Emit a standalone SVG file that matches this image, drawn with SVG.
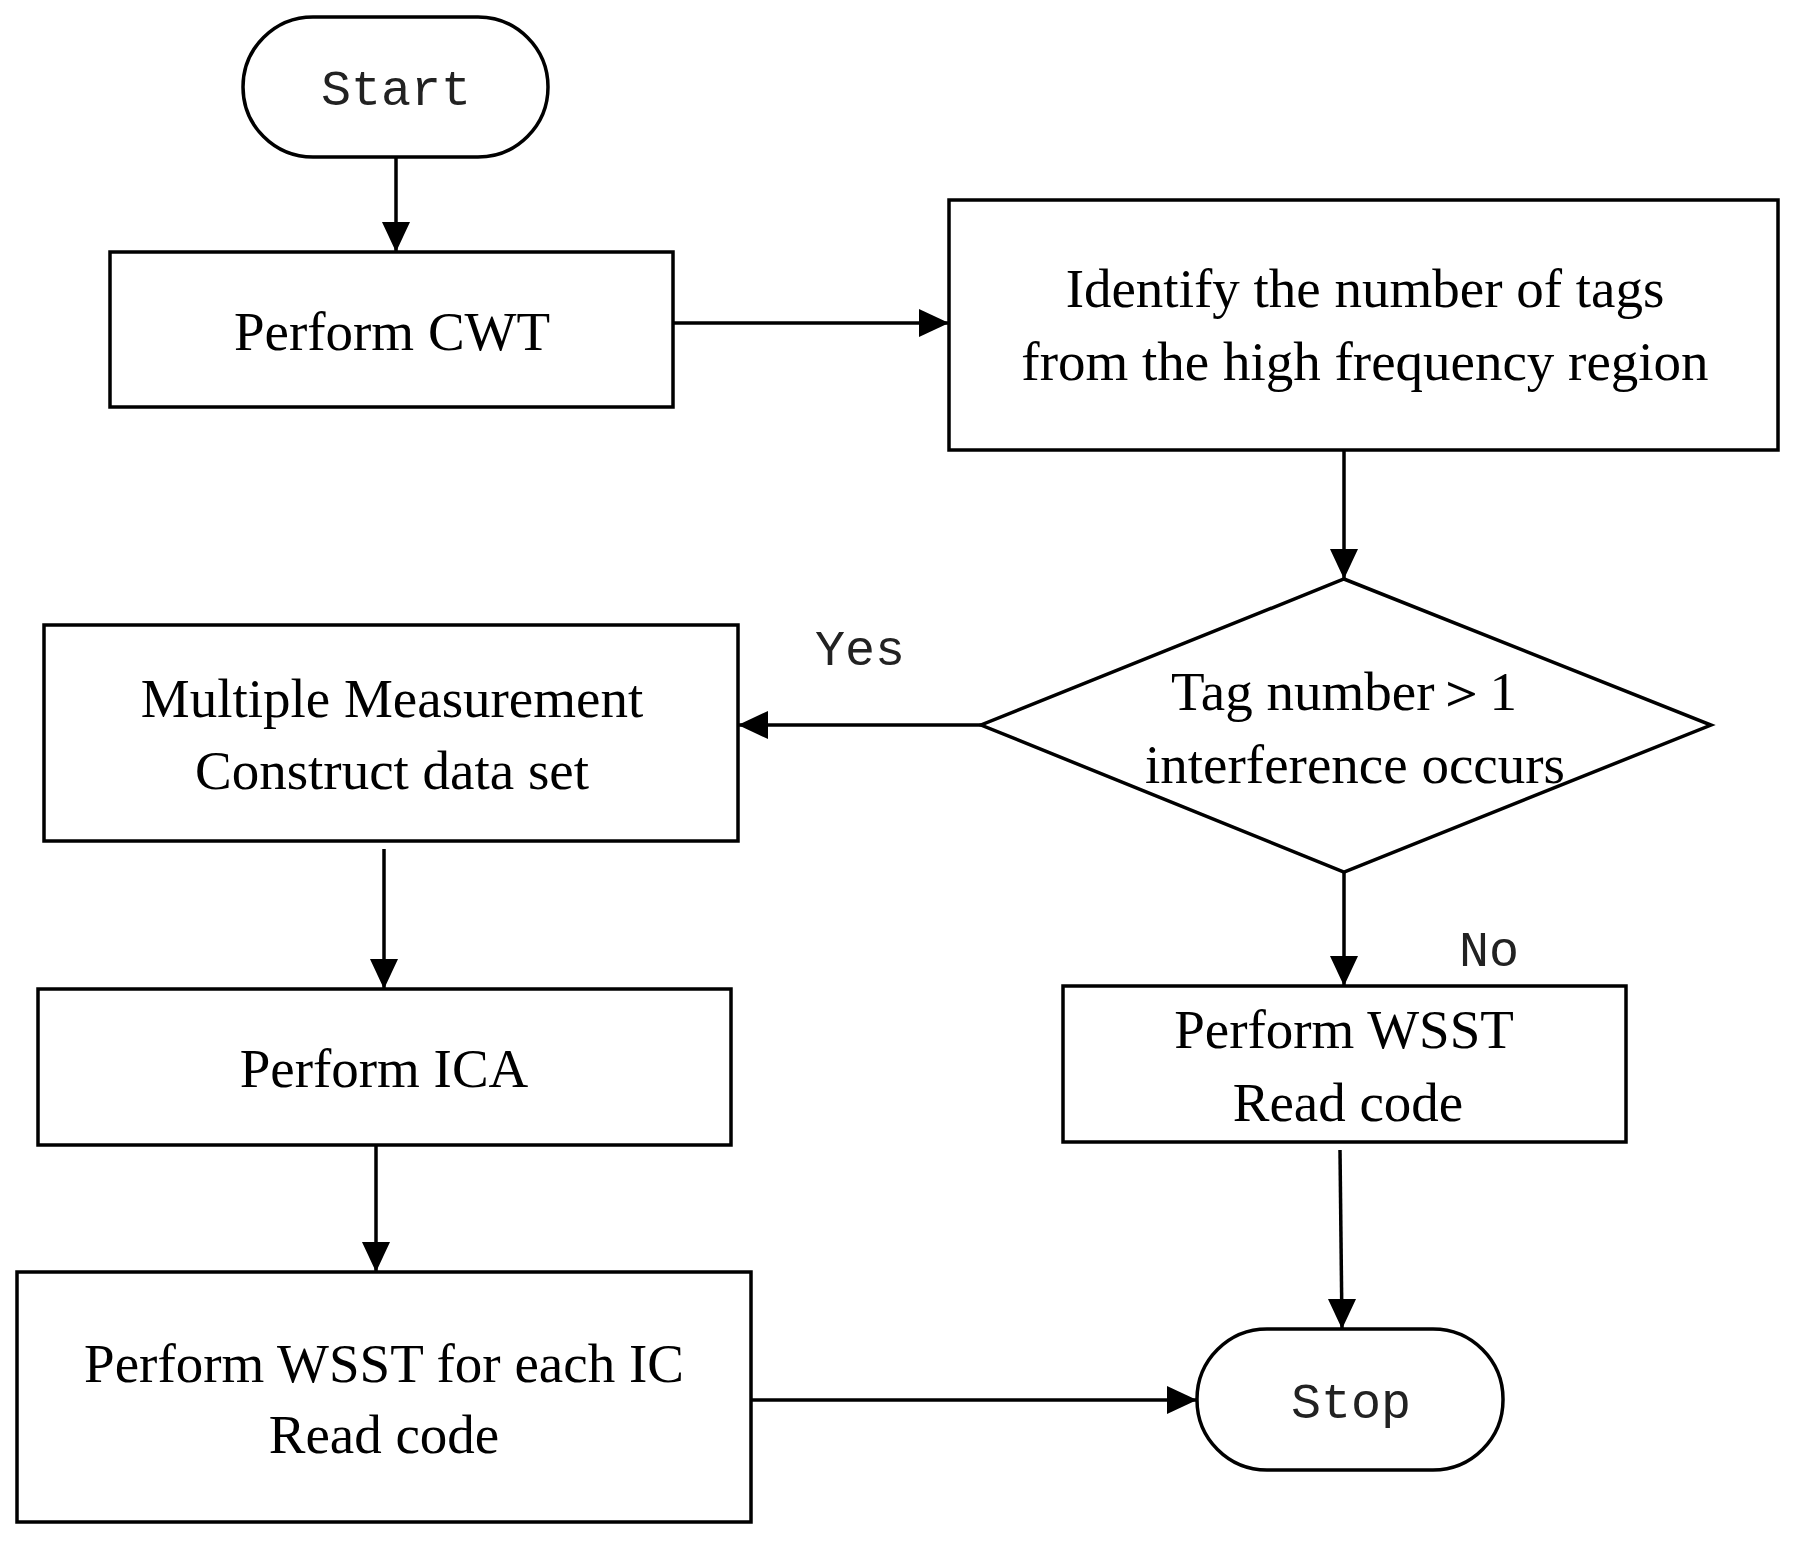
<svg xmlns="http://www.w3.org/2000/svg" width="1798" height="1545" viewBox="0 0 1798 1545">
<style>
.s{fill:#fff;stroke:#000;stroke-width:3.5}
.t{font-family:"Liberation Serif",serif;font-size:55px;text-anchor:middle;fill:#000}
.m{font-family:"Liberation Mono",monospace;font-size:50px;text-anchor:middle;fill:#222}
.l{stroke:#000;stroke-width:3.5;fill:none}
</style>
<rect width="1798" height="1545" fill="#fff"/>
<g id="connectors">
<path class="l" d="M396,157 V252"/><path d="M382,222 L396,252 L410,222 z"/>
<path class="l" d="M673,323 H949"/><path d="M919,309 L949,323 L919,337 z"/>
<path class="l" d="M1344,450 V579"/><path d="M1330,549 L1344,579 L1358,549 z"/>
<path class="l" d="M981,725 H738"/><path d="M768,711 L738,725 L768,739 z"/>
<path class="l" d="M384,849 V989"/><path d="M370,959 L384,989 L398,959 z"/>
<path class="l" d="M376,1145 V1272"/><path d="M362,1242 L376,1272 L390,1242 z"/>
<path class="l" d="M1344,872 V986"/><path d="M1330,956 L1344,986 L1358,956 z"/>
<path class="l" d="M1340,1150 L1342,1329"/><path d="M1328,1299 L1342,1329 L1356,1299 z"/>
<path class="l" d="M751,1400 H1197"/><path d="M1167,1386 L1197,1400 L1167,1414 z"/>
</g>
<g id="start"><rect class="s" x="243" y="17" width="305" height="140" rx="70"/><text class="m" x="396" y="105">Start</text></g>
<g id="cwt"><rect class="s" x="110" y="252" width="563" height="155"/><text class="t" x="392" y="350">Perform CWT</text></g>
<g id="identify"><rect class="s" x="949" y="200" width="829" height="250"/><text class="t" x="1365" y="307">Identify the number of tags</text><text class="t" x="1365" y="380">from the high frequency region</text></g>
<g id="decision"><polygon class="s" points="1344,579 1711,725 1344,872 981,725"/><text class="t" x="1344" y="710">Tag number＞1</text><text class="t" x="1355" y="783">interference occurs</text></g>
<g id="multiple"><rect class="s" x="44" y="625" width="694" height="216"/><text class="t" x="392" y="717">Multiple Measurement</text><text class="t" x="392" y="789">Construct data set</text></g>
<text class="m" x="860" y="665">Yes</text>
<g id="ica"><rect class="s" x="38" y="989" width="693" height="156"/><text class="t" x="384" y="1087">Perform ICA</text></g>
<g id="wsst"><rect class="s" x="1063" y="986" width="563" height="156"/><text class="t" x="1344" y="1048">Perform WSST</text><text class="t" x="1348" y="1121">Read code</text></g>
<text class="m" x="1489" y="966">No</text>
<g id="wsstic"><rect class="s" x="17" y="1272" width="734" height="250"/><text class="t" x="384" y="1382">Perform WSST for each IC</text><text class="t" x="384" y="1453">Read code</text></g>
<g id="stop"><rect class="s" x="1197" y="1329" width="306" height="141" rx="70"/><text class="m" x="1351" y="1418">Stop</text></g>
</svg>
